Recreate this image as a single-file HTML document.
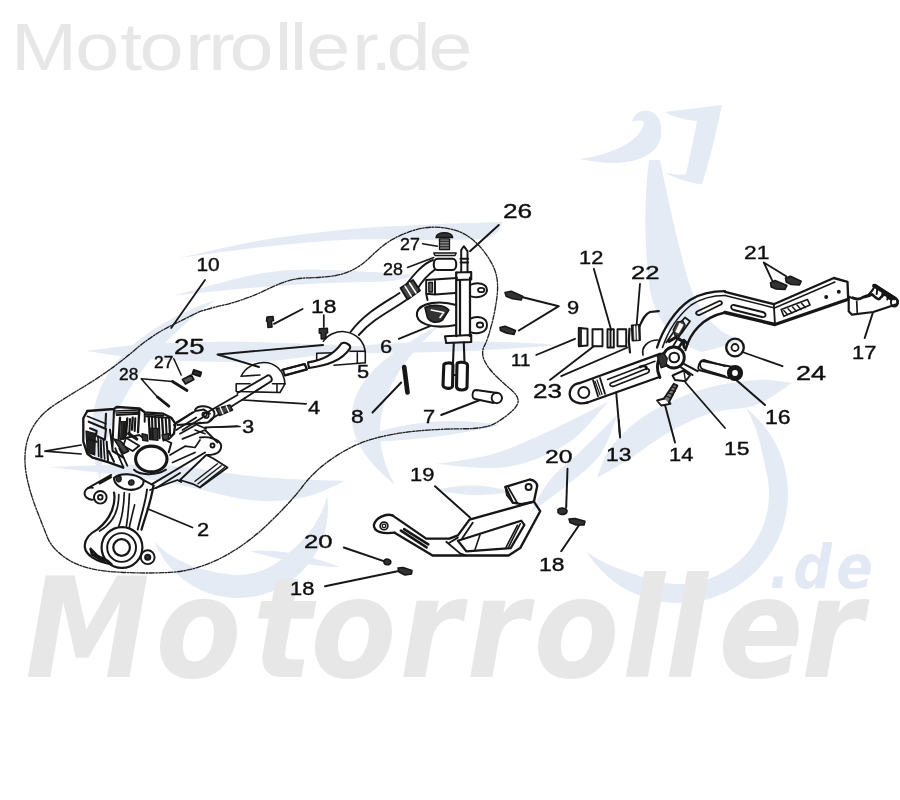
<!DOCTYPE html>
<html><head><meta charset="utf-8"><title>Motorroller.de</title>
<style>
html,body{margin:0;padding:0;background:#fff;}
body{width:900px;height:800px;overflow:hidden;}
svg{display:block;}
.lbl{font-family:"Liberation Sans",sans-serif;fill:#111;stroke:#111;stroke-width:0.4px;}
</style></head><body>
<svg width="900" height="800" viewBox="0 0 900 800">
<defs><filter id="soft" x="-2%" y="-2%" width="104%" height="104%"><feGaussianBlur stdDeviation="0.45"/></filter></defs>
<rect width="900" height="800" fill="#fff"/>
<!-- WATERMARK-BLUE -->
<g id="wm-blue" fill="#e5ebf5" stroke="none">
<path d="M179.0,258.0 C193.0,255.0 234.2,244.8 263.0,240.0 C291.8,235.2 322.3,231.7 352.0,229.0 C381.7,226.3 415.8,225.2 441.0,224.0 C466.2,222.8 492.7,222.3 503.0,222.0 C500.8,224.5 500.3,234.0 490.0,237.0 C479.7,240.0 464.0,239.6 441.0,240.0 C418.0,240.4 381.7,238.3 352.0,239.5 C322.3,240.7 291.8,243.9 263.0,247.0 C234.2,250.1 193.0,256.2 179.0,258.0Z"/>
<path d="M174.0,295.5 C188.8,291.8 237.0,277.2 263.0,273.0 C289.0,268.8 304.7,269.7 330.0,270.0 C355.3,270.3 400.8,274.2 415.0,275.0 C410.8,276.0 404.2,279.7 390.0,281.0 C375.8,282.3 351.2,282.0 330.0,283.0 C308.8,284.0 289.0,284.9 263.0,287.0 C237.0,289.1 188.8,294.1 174.0,295.5Z"/>
<path d="M86.0,351.0 C96.7,349.8 122.7,345.5 150.0,344.0 C177.3,342.5 212.5,341.5 250.0,342.0 C287.5,342.5 354.2,346.2 375.0,347.0 C365.8,348.3 340.8,352.5 320.0,355.0 C299.2,357.5 278.3,361.3 250.0,362.0 C221.7,362.7 177.3,360.8 150.0,359.0 C122.7,357.2 96.7,352.3 86.0,351.0Z"/>
<path d="M300,352 Q430,335 560,345 Q430,356 300,352Z"/>
<path d="M50.0,467.0 C68.3,466.7 125.0,463.3 160.0,465.0 C195.0,466.7 229.2,474.3 260.0,477.0 C290.8,479.7 330.8,480.3 345.0,481.0 C338.3,483.7 320.8,493.8 305.0,497.0 C289.2,500.2 274.2,502.7 250.0,500.0 C225.8,497.3 193.3,486.5 160.0,481.0 C126.7,475.5 68.3,469.3 50.0,467.0Z"/>
<path d="M215,300 Q60,355 100,480 Q108,378 215,300Z"/>
<path d="M440,325 Q290,400 395,485 Q350,405 440,325Z"/>
<path d="M350,442 Q420,412 500,425 Q430,442 350,442Z"/>
<path d="M250,551 Q290,548 340,567 Q300,566 250,551Z"/>
<path d="M608.0,402.0 C597.8,407.0 566.2,423.3 547.0,432.0 C527.8,440.7 511.5,448.7 493.0,454.0 C474.5,459.3 445.5,462.3 436.0,464.0 C447.8,464.5 485.0,470.5 507.0,467.0 C529.0,463.5 551.2,453.8 568.0,443.0 C584.8,432.2 601.3,408.8 608.0,402.0Z"/>
<path d="M618.0,414.0 C612.0,420.0 593.3,439.0 582.0,450.0 C570.7,461.0 558.5,469.7 550.0,480.0 C541.5,490.3 534.2,506.7 531.0,512.0 C536.8,507.7 554.5,495.5 566.0,486.0 C577.5,476.5 591.3,467.0 600.0,455.0 C608.7,443.0 615.0,420.8 618.0,414.0Z"/>
<path d="M436,490 Q475,480 512,492 Q475,499 436,490Z"/>
<path d="M327.1,495.5 L327.7,500.9 L328.0,506.3 L327.9,511.7 L327.5,517.1 L326.8,522.5 L325.8,527.9 L324.4,533.1 L322.7,538.3 L320.8,543.3 L318.5,548.3 L315.9,553.1 L313.0,557.7 L309.9,562.1 L306.5,566.4 L302.9,570.4 L299.0,574.2 L294.9,577.7 L290.6,581.0 L286.1,584.1 L281.4,586.8 L276.6,589.3 L271.6,591.5 L266.5,593.4 L261.3,594.9 L256.0,596.2 L250.7,597.1 L245.3,597.7 L239.8,598.0 L234.4,597.9 L229.0,597.5 L223.6,596.8 L218.3,595.8 L213.0,594.5 L207.8,592.8 L202.8,590.8 L197.8,588.5 L193.1,586.0 L188.4,583.1 L184.0,580.0 L179.7,576.6 L175.7,573.0 L171.9,569.1 L168.3,565.0 L165.0,560.7 L162.0,556.2 L159.2,551.5 L156.7,546.7 L154.6,541.7 L154.6,541.7 L158.6,545.8 L162.8,549.5 L167.2,552.9 L171.6,555.9 L176.1,558.6 L180.6,561.0 L185.1,563.1 L189.6,565.0 L194.0,566.6 L198.4,568.0 L202.7,569.3 L206.9,570.3 L211.1,571.3 L215.2,572.1 L219.2,572.9 L223.3,573.5 L227.3,574.1 L231.3,574.7 L235.3,574.9 L239.4,575.0 L243.4,574.8 L247.4,574.3 L251.4,573.6 L255.3,572.7 L259.2,571.6 L263.0,570.2 L266.7,568.5 L270.3,566.7 L273.8,564.6 L277.1,562.4 L280.4,559.9 L283.5,557.4 L286.7,554.8 L289.8,552.1 L292.9,549.3 L296.1,546.4 L299.2,543.4 L302.3,540.2 L305.4,536.8 L308.4,533.2 L311.3,529.3 L314.2,525.2 L316.9,520.9 L319.4,516.3 L321.8,511.5 L323.8,506.4 L325.6,501.0 L327.1,495.5Z"/>
<path d="M746.1,408.1 L752.2,413.2 L757.8,418.7 L763.1,424.7 L767.9,431.0 L772.3,437.6 L776.1,444.5 L779.5,451.7 L782.3,459.1 L784.5,466.7 L786.2,474.4 L787.4,482.3 L787.9,490.2 L787.9,498.1 L787.3,506.0 L786.2,513.9 L784.4,521.6 L782.2,529.2 L779.3,536.6 L776.0,543.8 L772.1,550.7 L767.7,557.3 L762.9,563.6 L757.6,569.5 L751.9,575.0 L745.9,580.1 L739.4,584.7 L732.7,588.9 L725.6,592.5 L718.4,595.6 L710.9,598.2 L703.2,600.3 L695.4,601.8 L687.6,602.7 L679.6,603.0 L671.7,602.8 L663.8,601.9 L656.0,600.6 L648.3,598.6 L640.8,596.1 L633.5,593.1 L626.4,589.5 L619.6,585.4 L613.1,580.9 L607.0,575.8 L601.3,570.4 L595.9,564.5 L591.0,558.3 L586.6,551.8 L586.6,551.8 L593.5,556.5 L600.6,560.6 L607.6,564.1 L614.7,567.2 L621.5,569.8 L628.2,572.2 L634.8,574.3 L641.2,576.4 L647.4,578.4 L653.7,580.4 L660.0,582.0 L666.5,583.1 L673.0,583.8 L679.5,584.0 L686.1,583.7 L692.6,583.0 L699.0,581.8 L705.3,580.1 L711.5,577.9 L717.5,575.3 L723.3,572.3 L728.9,568.9 L734.2,565.1 L739.2,560.9 L743.9,556.3 L748.3,551.4 L752.3,546.3 L755.9,540.8 L759.1,535.1 L761.8,529.2 L764.2,523.1 L766.1,516.8 L767.5,510.4 L768.5,503.9 L768.9,497.4 L768.9,490.9 L768.5,484.3 L767.5,477.9 L766.2,471.4 L764.9,465.0 L763.5,458.4 L762.0,451.7 L760.4,444.8 L758.5,437.7 L756.2,430.4 L753.4,423.0 L750.1,415.5 L746.1,408.1Z"/>
<path d="M597.0,478.0 C599.3,472.8 602.8,457.5 611.0,447.0 C619.2,436.5 631.2,424.5 646.0,415.0 C660.8,405.5 681.7,395.8 700.0,390.0 C718.3,384.2 740.7,381.2 756.0,380.0 C771.3,378.8 786.0,382.5 792.0,383.0 C786.0,386.7 769.5,400.0 756.0,405.0 C742.5,410.0 726.0,408.2 711.0,413.0 C696.0,417.8 679.3,426.5 666.0,434.0 C652.7,441.5 642.5,450.7 631.0,458.0 C619.5,465.3 602.7,474.7 597.0,478.0Z"/>
<path d="M580,159 C596,157 612,152 625,145 C637,138 643,130 644,122 C641,120 636,120 632.6,122 C633,116 637,112 643,111 C652,110 658,115 660,122 C663,132 661,141 656,148 C648,158 630,163 615,163 C602,163 590,161 580,159Z"/>
<path d="M664.6,112 L722,105 C716,135 708,165 702,184.5 C690,183 675,178 664.6,172.7 C672,174 679,175 686,174.4 C690,155 694,138 697,121 C685,120 674,117 664.6,112Z"/>
<path d="M649,160 C644,200 644,250 650,290 C656,325 680,345 702,352 L744,341 C716,334 696,310 687,276 C677,240 668,200 660,160Z"/>
</g>
<!-- WATERMARK-TEXT -->
<g id="wm-text">
<text transform="scale(1.2,1)" x="9.2 62.8 100.2 116.2 154.3 173.5 191.2 228.9 241.4 255.3 293.5 308.6 322 357" y="70" font-family="'Liberation Sans',sans-serif" font-size="66" fill="#e7e7e7">Motorroller.de</text>
<text transform="scale(0.9,1)" x="28.1 172.8 280.7 345 443.8 518.2 592.8 691 739 798.3 890.4" y="677" font-family="'DejaVu Sans','Liberation Sans',sans-serif" font-weight="bold" font-style="italic" font-size="139" fill="#e7e7e7">Motorroller</text>
<text transform="scale(0.9,1)" x="854.8 881.3 929.1" y="588" font-family="'DejaVu Sans','Liberation Sans',sans-serif" font-weight="bold" font-style="italic" font-size="60" fill="#e3e9f4">.de</text>
</g>
<!-- DIAGRAM -->
<g id="dg" filter="url(#soft)" fill="none" stroke="#161616" stroke-width="1.3" stroke-linecap="round" stroke-linejoin="round">
<path d="M 87.3 411.0 L 114.0 409.0 L 116.7 407.0 L 139.3 408.3 L 144.7 412.3 L 163.3 413.7 L 171.3 417.7 L 175.3 423.7 L 174.0 433.7 L 168.7 439.0" stroke-width="2.34"/>
<path d="M 87.3 411.0 L 83.3 418.3 L 83.3 441.7 L 87.3 453.7 L 92.7 457.7 L 108.7 462.3 L 123.3 467.7" stroke-width="2.34"/>
<path d="M 88.7 421.7 L 106.0 429.0 L 104.9 439.7 L 97.3 436.3" stroke-width="2.08"/>
<path d="M 87.3 416.3 L 106.0 423.7" stroke-width="1.56"/>
<path d="M 106.0 413.7 L 105.3 428.3 M 114.0 409.7 L 112.4 448.3 M 110.0 429.7 L 112.7 451.0 L 123.3 457.7" stroke-width="2.08"/>
<path d="M 115.3 448.3 L 123.3 467.0 M 119.3 448.3 L 127.3 465.7" stroke-width="1.82"/>
<path d="M 86.0 431.0 L 95.3 433.7 L 94.7 455.0 L 87.3 452.3 Z" stroke-width="1.3" fill="#222"/>
<path d="M 98.0 436.3 L 98.7 456.3 M 103.3 439.0 L 104.7 459.0" stroke-width="1.69"/>
<path d="M 120.0 417.7 L 118.7 439.0 M 127.3 418.3 L 126.0 435.0 M 132.7 417.7 L 132.0 429.7 M 139.3 409.7 L 138.0 432.3 M 148.7 416.3 L 150.0 439.0 M 155.3 417.0 L 156.0 437.7 M 162.0 417.7 L 163.3 437.7 M 169.3 419.0 L 170.0 435.0" stroke-width="2.34"/>
<path d="M 116.7 415.0 L 139.3 413.7 M 144.7 413.0 L 144.7 421.7 M 120.7 439.0 L 139.3 435.0 L 144.7 439.0" stroke-width="1.95"/>
<path d="M 121.3 421.7 L 126.0 421.7 L 125.3 437.7 L 120.7 439.0 Z" stroke-width="1.3" fill="#333"/>
<path d="M 150.0 428.3 L 158.0 428.3 L 158.0 440.3 L 150.7 439.7 Z" stroke-width="1.3" fill="#333"/>
<path d="M 126.0 437.7 L 139.3 445.7 L 132.7 451.0 L 123.3 445.7 Z" stroke-width="1.82"/>
<path d="M 128.7 433.7 L 136.7 439.0" stroke-width="3.25"/>
<path d="M 124.0 423.7 L 123.3 439.0 M 130.0 419.0 L 129.3 433.7 M 135.3 418.3 L 134.7 431.0 M 152.0 417.0 L 152.7 439.0 M 158.7 417.7 L 159.6 438.3 M 165.7 418.3 L 166.7 436.3" stroke-width="2.08"/>
<path d="M 115.3 411.0 L 139.3 409.9 M 116.0 413.0 L 138.7 412.1 M 145.3 414.3 L 163.3 415.7 M 146.0 416.3 L 168.7 417.9" stroke-width="1.69"/>
<path d="M 90.0 428.3 L 96.7 431.0 L 96.0 435.0 M 88.7 439.0 L 96.7 441.7 M 100.7 440.3 L 101.3 457.7 M 106.7 441.7 L 108.0 460.3 M 108.7 451.0 L 114.0 461.7" stroke-width="2.08"/>
<path d="M 142.0 433.7 L 147.3 435.0 L 148.0 441.0 L 142.7 440.3 Z" stroke-width="1.3" fill="#333"/>
<path d="M 162.0 435.0 L 168.7 433.7 L 168.0 439.0 L 163.3 441.0 Z" stroke-width="1.3" fill="#444"/>
<path d="M 114.0 439.0 L 120.7 441.0 L 128.7 451.0 L 123.3 453.7 Z" stroke-width="1.56" fill="#444"/>
<ellipse cx="151.3" cy="459.0" rx="15.7" ry="12.9" stroke-width="3.12" fill="#fff"/>
<path d="M 134.0 469.7 C 139.3 475.0 155.3 476.3 166.0 469.7" stroke-width="1.95"/>
<path d="M 163.3 439.0 L 171.3 443.0 L 168.7 452.3" stroke-width="1.95"/>
<circle cx="122.0" cy="547.5" r="20.4" stroke-width="2.21"/>
<circle cx="121.6" cy="547.5" r="14.4" stroke-width="1.95"/>
<circle cx="121.6" cy="547.5" r="8.3" stroke-width="2.21"/>
<path d="M 90.6 548.9 L 97.5 555.8 L 107.1 560.6 L 111.3 564.3 M 90.6 548.9 L 92.0 554.4 L 104.4 562.0" stroke-width="2.6"/>
<circle cx="147.7" cy="557.2" r="6.9" stroke-width="1.95"/>
<circle cx="147.7" cy="557.2" r="2.6" stroke-width="1.95" fill="#333"/>
<circle cx="100.3" cy="497.3" r="6.3" stroke-width="1.95"/>
<circle cx="100.3" cy="497.3" r="2.3" stroke-width="1.82"/>
<path d="M 94.1 499.4 C 87.9 500.8 83.1 495.9 85.1 491.1 C 86.2 488.7 89.3 487.3 92.7 487.7" stroke-width="1.95"/>
<path d="M 87.9 488.1 L 111.3 474.9 M 99.6 483.6 L 111.3 477.1" stroke-width="1.82"/>
<path d="M 114.0 478.1 C 119.5 472.6 134.6 472.6 143.6 480.1 C 144.3 485.6 138.8 490.4 129.1 489.8 C 120.9 489.1 114.0 484.3 114.0 478.1 Z" stroke-width="2.08"/>
<path d="M 116.1 478.8 C 117.5 475.3 121.6 475.7 121.2 479.4 C 120.6 482.9 116.5 482.6 116.1 478.8 Z" stroke-width="1.3" fill="#333"/>
<path d="M 128.5 482.2 C 129.8 478.8 134.6 479.4 134.0 483.2 C 133.0 486.3 128.5 485.6 128.5 482.2 Z" stroke-width="1.3" fill="#333"/>
<path d="M 114.0 492.5 C 116.1 503.5 111.3 518.6 97.5 529.4 C 89.3 533.8 83.8 539.3 84.9 547.5 C 85.8 554.4 94.8 561.3 111.3 564.3" stroke-width="2.21"/>
<path d="M 118.8 494.6 C 118.8 509.0 114.0 522.8 99.6 531.0" stroke-width="1.69"/>
<path d="M 124.3 492.5 C 123.9 506.3 121.6 518.6 118.8 526.2 M 129.4 493.9 C 128.9 506.3 127.8 517.3 126.4 526.2" stroke-width="1.69"/>
<path d="M 134.6 504.9 C 132.6 513.1 130.5 521.4 129.4 527.2" stroke-width="1.69"/>
<path d="M 147.0 489.5 C 145.7 502.1 140.8 515.9 137.7 529.6" stroke-width="1.95"/>
<path d="M 153.2 487.0 C 150.5 503.5 145.0 517.3 141.5 529.6" stroke-width="2.21"/>
<path d="M 143.6 480.1 L 153.9 485.6 L 153.2 487.0" stroke-width="1.82"/>
<path d="M 152.5 483.8 L 205.0 452.5 M 156.2 488.0 L 180.0 473.0" stroke-width="1.95"/>
<path d="M 150.0 490.0 L 177.5 480.0 L 181.2 482.0" stroke-width="1.82"/>
<path d="M 200.0 437.5 C 207.5 436.2 220.0 438.8 221.2 445.5 C 221.2 452.5 215.0 455.0 207.5 455.0" stroke-width="1.95"/>
<circle cx="212.5" cy="445.5" r="2.0" stroke-width="1.82"/>
<path d="M 180.0 480.0 L 206.2 455.0 L 212.5 458.0 L 227.5 467.5 L 200.0 487.5 L 192.5 483.8 Z" stroke-width="1.82"/>
<path d="M 195.0 481.2 L 217.5 463.8 M 198.0 483.8 L 221.2 465.8 M 201.0 486.0 L 224.5 467.5" stroke-width="1.43"/>
<path d="M 173.8 425.0 L 195.0 411.2 L 203.8 409.5 L 210.0 413.8 M 176.2 430.0 L 196.2 417.5 M 180.0 433.8 L 200.0 422.5 M 182.5 438.8 L 205.0 430.0 L 217.5 442.5" stroke-width="1.82"/>
<path d="M 170.0 455.0 L 185.0 446.2 L 195.0 447.5 L 200.0 440.0 M 172.5 462.5 L 195.0 452.5" stroke-width="1.69"/>
<circle cx="204.5" cy="414.5" r="2.2" stroke-width="1.69"/>
<path d="M 45.0 451.2 L 81.2 445.0 M 45.0 451.2 L 81.2 454.0" stroke-width="1.69"/>
<path d="M 192.5 527.5 L 147.5 508.8" stroke-width="1.69"/>
<path d="M 205.0 427.5 L 240.0 426.5" stroke-width="1.69"/>
<path d="M 205.0 280.0 L 171.2 328.0" stroke-width="1.82"/>
<path d="M 217.5 354.5 L 323.0 345.0 M 217.5 354.5 L 259.0 367.0" stroke-width="1.95"/>
<path d="M 173.8 358.8 L 181.2 375.0" stroke-width="1.56"/>
<path d="M 141.2 378.8 L 172.5 381.5 M 141.2 378.8 L 150.0 388.8 L 157.5 397.0" stroke-width="1.56"/>
<path d="M 172.5 381.5 L 187.0 390.5 M 157.5 397.0 L 168.8 406.2" stroke-width="2.86"/>
<path d="M 193.8 370.0 L 201.2 372.5 L 200.0 376.2 L 192.5 373.8 Z" stroke-width="1.95" fill="#333"/>
<path d="M 182.5 379.5 L 191.2 375.0 L 193.8 379.5 L 185.5 384.0 Z" stroke-width="1.69" fill="#555"/>
<path d="M 241.2 376.2 C 245.0 367.5 255.0 362.5 263.8 362.5 C 275.0 362.5 283.8 370.0 285.0 383.8" stroke-width="1.56"/>
<path d="M 241.2 376.2 L 260.0 375.0 M 236.2 383.8 L 236.2 391.5 L 280.0 392.5 L 285.0 383.8 M 236.2 383.8 L 250.0 383.8 M 272.5 383.8 L 285.0 383.8 M 277.0 383.8 L 277.0 392.0" stroke-width="1.56"/>
<path d="M 237.5 393.0 L 267.5 375.5 C 270.0 374.5 273.0 378.8 271.2 381.2 L 245.0 398.0" stroke-width="1.95"/>
<path d="M 206.2 413.0 L 237.5 395.0 M 210.5 419.5 L 245.0 398.0" stroke-width="1.82"/>
<path d="M 216.2 408.8 L 230.0 405.0 L 232.5 410.0 L 219.5 415.5 Z" stroke-width="1.56" fill="#444"/>
<path d="M 220.0 407.0 L 223.0 413.8 M 226.2 406.0 L 229.0 412.0" stroke-width="1.3" stroke="#fff"/>
<path d="M 195.0 410.0 C 197.5 405.0 207.5 405.0 213.0 410.0 C 216.2 413.8 213.8 420.0 207.5 422.5 L 177.5 425.0" stroke-width="1.95"/>
<path d="M 192.5 412.5 L 176.2 422.5 M 202.5 417.5 L 182.5 430.0" stroke-width="1.82"/>
<circle cx="206.2" cy="415.5" r="2.5" stroke-width="1.69"/>
<path d="M 197.5 425.0 L 206.2 428.8 M 195.0 430.0 L 205.0 433.8" stroke-width="1.56"/>
<path d="M 282.0 370.0 L 304.5 364.0 M 285.0 375.5 L 307.0 369.5 M 304.5 364.0 L 307.0 369.5" stroke-width="1.82"/>
<path d="M 267.0 317.0 L 273.0 316.5 L 273.5 320.5 L 271.5 321.0 L 272.0 327.0 L 268.0 327.5 L 267.5 321.5 L 266.5 321.0 Z" stroke-width="1.56" fill="#333"/>
<path d="M 274.0 323.8 L 302.5 309.0" stroke-width="1.95"/>
<path d="M 323.8 315.0 L 323.8 327.0" stroke-width="1.69"/>
<path d="M 306.2 403.8 L 242.5 400.0" stroke-width="1.69"/>
<path d="M 237.5 426.2 L 205.0 427.5" stroke-width="1.69"/>
<path d="M 498.8 225.0 L 470.0 251.2" stroke-width="1.95"/>
<path d="M 422.5 243.8 L 437.5 246.2" stroke-width="1.43"/>
<path d="M 407.5 267.5 L 433.8 257.5" stroke-width="1.43"/>
<path d="M 436.2 237.5 C 436.2 231.2 452.5 231.2 452.5 237.5 Z" stroke-width="1.69" fill="#333"/>
<path d="M 439.5 238.8 L 449.5 238.8 L 449.5 249.5 L 439.5 249.5 Z" stroke-width="1.3" fill="#888"/>
<path d="M 439.5 241.2 L 449.5 241.2 M 439.5 244.0 L 449.5 244.0 M 439.5 246.8 L 449.5 246.8" stroke-width="1.04"/>
<path d="M 433.8 253.0 L 456.2 253.0 L 455.0 255.5 L 435.0 255.5 Z" stroke-width="1.43"/>
<path d="M 437.5 258.8 L 452.5 258.8 C 457.5 258.8 457.5 270.0 452.5 270.0 L 437.5 270.0 C 432.5 270.0 432.5 258.8 437.5 258.8 Z" stroke-width="2.08"/>
<path d="M 433.0 260.0 C 422.5 263.8 413.8 275.0 406.2 284.5 M 435.0 269.5 C 427.5 275.0 421.2 282.5 417.0 289.5" stroke-width="1.95"/>
<path d="M 400.5 288.0 L 413.0 280.0 L 420.0 290.5 L 407.5 299.5 Z" stroke-width="1.82" fill="#444"/>
<path d="M 405.0 286.2 L 411.2 296.2 M 409.5 283.0 L 416.0 293.0" stroke-width="1.56" stroke="#fff"/>
<path d="M 399.5 293.0 C 385.0 302.5 365.0 312.5 350.5 332.0 M 406.2 300.0 C 392.5 310.0 372.5 318.8 358.8 335.0" stroke-width="1.95"/>
<path d="M 456.2 272.5 L 456.2 336.2 M 470.0 277.5 L 470.0 336.2 M 460.0 280.0 L 460.0 335.0" stroke-width="2.21"/>
<path d="M 456.2 272.5 L 471.2 272.0 L 471.2 279.5 L 457.0 280.0" stroke-width="2.08"/>
<path d="M 461.2 250.0 L 461.2 272.0 M 467.5 251.2 L 467.5 272.0 M 461.2 250.0 L 463.8 246.2 L 467.5 251.2 M 460.5 258.8 L 468.2 258.8 M 460.5 262.5 L 468.2 262.5" stroke-width="1.95"/>
<path d="M 426.2 280.0 L 457.0 278.0 M 426.2 280.0 L 426.2 293.8 L 435.0 294.5 L 435.0 281.2 M 426.2 293.8 L 427.5 300.0 M 435.0 294.5 L 455.0 293.0" stroke-width="1.95"/>
<path d="M 428.8 282.5 L 432.5 282.5 L 432.5 292.0 L 428.8 292.0 Z" stroke-width="1.3" fill="#666"/>
<path d="M 470.0 285.0 C 477.5 281.2 487.0 283.8 487.0 290.0 C 487.0 296.2 477.5 298.8 470.0 296.2" stroke-width="1.95"/>
<ellipse cx="481.2" cy="290.0" rx="3.2" ry="2.2" stroke-width="1.82"/>
<path d="M 470.0 318.8 C 477.5 315.0 487.0 317.5 487.0 325.0 C 487.0 332.5 477.5 335.0 470.0 332.0" stroke-width="1.95"/>
<ellipse cx="480.0" cy="325.0" rx="3.2" ry="2.5" stroke-width="1.82"/>
<path d="M 456.2 305.0 C 440.0 300.0 420.0 302.5 417.0 312.5 C 415.0 322.5 430.0 330.0 456.2 325.0" stroke-width="2.08"/>
<path d="M 425.0 307.5 C 432.5 303.8 445.0 305.0 448.8 310.0 L 442.5 320.0 C 437.5 323.8 430.0 322.5 427.5 317.5 Z" stroke-width="1.69" fill="#333"/>
<path d="M 431.2 310.0 L 443.8 312.5 L 440.0 317.5" stroke-width="1.56" stroke="#fff"/>
<path d="M 445.0 336.2 L 471.2 335.0 L 471.2 342.0 L 446.2 343.0 Z" stroke-width="2.08"/>
<path d="M 453.8 343.0 L 453.0 362.5 M 463.8 342.5 L 464.5 362.5" stroke-width="2.08"/>
<path d="M 443.8 365.0 C 443.8 362.5 452.5 362.0 453.0 365.0 L 452.5 386.2 C 451.2 389.5 443.8 388.8 443.0 385.5 Z" stroke-width="3.12"/>
<path d="M 457.0 363.8 C 457.5 361.2 467.0 362.0 467.5 365.0 L 467.0 387.5 C 465.0 391.2 457.5 390.5 456.5 387.0 Z" stroke-width="3.12"/>
<path d="M 453.0 375.0 L 456.5 375.0" stroke-width="1.95"/>
<path d="M 398.8 338.8 L 430.0 326.2" stroke-width="1.82"/>
<path d="M 404.2 367.0 L 407.5 392.5" stroke-width="4.68"/>
<path d="M 401.2 382.5 L 372.5 412.5" stroke-width="1.95"/>
<path d="M 323.3 341.3 C 327.3 334.7 336.7 330.9 344.7 331.7 C 356.7 333.3 364.7 341.3 365.3 353.3 L 365.3 362.7" stroke-width="1.56"/>
<path d="M 316.7 353.3 L 316.7 360.0 M 316.7 353.3 L 334.0 352.7 M 350.0 351.3 L 365.3 351.3 M 316.7 360.0 L 328.7 358.7 M 334.0 365.3 L 365.3 362.7 M 357.3 352.7 L 357.3 362.7" stroke-width="1.56"/>
<path d="M 308.0 362.4 C 320.7 360.7 332.7 356.0 341.3 343.7 C 344.7 341.3 351.3 344.7 350.0 348.3 C 342.0 360.0 328.7 365.3 308.9 368.0 Z" stroke-width="2.08" fill="#fff"/>
<path d="M 282.7 369.6 L 304.9 364.0 L 306.7 369.3 L 284.9 375.3 Z" stroke-width="1.95"/>
<path d="M 319.3 328.7 L 327.3 328.3 L 327.6 332.7 L 326.0 333.3 L 325.7 338.7 L 321.3 338.9 L 321.1 333.6 L 319.3 333.1 Z" stroke-width="1.56" fill="#333"/>
<path d="M 593.8 268.8 L 611.2 330.0" stroke-width="1.82"/>
<path d="M 640.0 283.8 L 636.5 326.2" stroke-width="1.82"/>
<path d="M 558.8 306.2 L 518.8 296.2 M 558.8 306.2 L 518.8 330.5" stroke-width="1.95"/>
<path d="M 505.0 292.5 L 511.2 291.2 L 522.5 296.2 L 521.2 300.0 L 512.5 298.8 L 506.2 296.2 Z" stroke-width="1.56" fill="#333"/>
<path d="M 500.0 327.5 L 505.0 326.2 L 515.5 330.5 L 514.0 334.5 L 506.2 333.0 L 500.5 330.5 Z" stroke-width="1.56" fill="#333"/>
<path d="M 536.2 355.0 L 575.0 338.8" stroke-width="1.82"/>
<path d="M 550.0 380.0 L 593.8 346.2 M 561.2 376.2 L 627.5 347.5" stroke-width="1.82"/>
<path d="M 578.8 328.0 L 587.5 328.8 L 587.5 345.5 L 578.8 346.2 Z" stroke-width="1.95"/>
<path d="M 578.8 328.0 L 581.2 328.0 L 581.2 346.2 L 578.8 346.2 Z" stroke-width="1.3" fill="#333"/>
<path d="M 592.5 329.2 L 602.5 329.2 L 602.5 346.2 L 592.5 346.2 Z" stroke-width="1.95"/>
<path d="M 607.5 329.2 L 613.8 329.2 L 613.8 347.5 L 607.5 347.5 Z M 610.5 329.2 L 610.5 347.5" stroke-width="1.95"/>
<path d="M 617.5 329.2 L 626.2 329.2 L 626.2 346.2 L 617.5 346.2 Z" stroke-width="1.95"/>
<path d="M 631.8 325.5 L 639.5 325.0 L 640.0 340.0 L 632.5 340.5 Z" stroke-width="1.95" fill="#555"/>
<path d="M 634.5 326.2 L 635.0 339.5 M 637.2 326.0 L 637.8 339.5" stroke-width="1.3" stroke="#fff"/>
<path d="M 639.5 326.2 C 642.5 320.0 645.0 313.8 650.0 312.0 L 658.8 311.2" stroke-width="2.21"/>
<path d="M 629.5 328.8 L 628.8 341.2 L 630.0 352.5" stroke-width="2.21"/>
<path d="M 580.0 383.0 L 660.0 353.8 M 587.5 402.5 L 658.0 377.5" stroke-width="2.34"/>
<path d="M 580.0 383.0 C 571.2 383.8 567.5 392.5 571.2 398.8 C 575.0 403.8 582.5 403.8 587.5 402.5" stroke-width="2.34"/>
<circle cx="583.8" cy="392.5" r="5.5" stroke-width="1.95"/>
<path d="M 593.0 380.0 L 598.0 396.2 M 600.0 378.0 L 605.0 393.8" stroke-width="1.82"/>
<path d="M 595.0 381.2 L 600.0 395.0 M 597.0 380.0 L 602.0 394.5" stroke-width="1.17"/>
<path d="M 607.5 379.5 L 655.0 361.2" stroke-width="1.56"/>
<path d="M 611.2 383.0 L 646.2 368.8 C 650.0 368.0 650.0 372.0 647.5 373.0 L 613.8 386.2 C 610.0 387.0 608.8 384.0 611.2 383.0 Z" stroke-width="1.69"/>
<path d="M 640.0 367.0 C 643.8 365.0 647.5 366.2 646.2 368.8" stroke-width="2.6"/>
<path d="M 643.0 355.0 C 641.2 347.5 647.5 340.0 658.0 340.0" stroke-width="1.69"/>
<circle cx="673.8" cy="357.5" r="10.5" stroke-width="2.86"/>
<circle cx="674.2" cy="357.5" r="4.8" stroke-width="2.08"/>
<path d="M 660.0 377.5 C 656.2 370.0 656.2 360.0 662.5 353.8" stroke-width="2.86"/>
<path d="M 657.0 347.5 C 662.5 330.0 675.0 310.0 690.0 300.0 C 700.0 293.8 712.5 291.2 725.0 291.2" stroke-width="2.34"/>
<path d="M 685.5 350.0 C 690.0 332.5 702.5 317.5 725.0 312.5" stroke-width="2.34"/>
<path d="M 662.5 347.5 C 667.5 332.5 677.5 316.2 691.2 305.0 C 702.5 297.5 715.0 295.5 725.0 295.5" stroke-width="1.56"/>
<path d="M 697.5 311.2 L 718.8 301.2 C 722.5 300.5 723.0 304.0 720.0 305.0 L 699.5 315.0 C 696.2 315.5 695.0 312.5 697.5 311.2 Z" stroke-width="1.82"/>
<path d="M 675.0 328.8 L 685.0 317.5 L 690.0 321.2 L 681.2 333.8 Z" stroke-width="1.82"/>
<path d="M 666.2 342.5 L 675.0 330.0 M 680.0 335.0 L 672.5 347.0" stroke-width="1.82"/>
<path d="M 678.8 347.5 L 683.8 340.0 L 687.5 343.8" stroke-width="2.6"/>
<path d="M 657.2 356.1 L 663.4 353.0 L 667.3 358.4 L 665.8 366.2 L 661.1 367.8 Z" stroke-width="1.3" fill="#333"/>
<path d="M 673.2 329.7 L 677.4 321.9 L 682.9 321.1 L 685.2 325.0 L 679.8 335.1 L 675.4 336.7 Z" stroke-width="1.3" fill="#444"/>
<path d="M 679.8 323.4 L 682.9 325.0 L 678.5 332.8 L 675.9 331.7 Z" stroke-width="1.04" fill="#fff" stroke="#fff"/>
<path d="M 668.9 341.3 L 675.9 337.4 L 682.9 341.3 L 684.4 347.5" stroke-width="3.12"/>
<path d="M 683.8 363.8 L 697.5 371.2 M 681.2 367.5 L 692.5 375.0" stroke-width="2.08"/>
<path d="M 672.5 375.5 L 683.8 370.5 L 690.0 375.5 L 685.5 381.2 L 675.0 380.0 Z" stroke-width="1.95"/>
<path d="M 683.8 370.5 L 685.5 381.2" stroke-width="1.43"/>
<path d="M 700.0 363.8 C 700.0 360.0 703.8 359.5 706.2 360.5 L 725.0 366.2 M 700.0 363.8 C 700.0 367.5 702.0 369.5 705.0 370.0 L 725.0 376.2" stroke-width="1.82"/>
<path d="M 657.0 400.5 L 666.2 398.0 L 670.5 403.8 L 661.2 405.5 Z" stroke-width="1.82"/>
<path d="M 663.8 398.8 L 673.8 383.8 L 677.5 385.5 L 668.8 402.5" stroke-width="1.82" fill="#777"/>
<path d="M 666.2 396.2 L 671.2 398.0 M 668.2 393.0 L 673.2 394.8 M 670.2 390.0 L 675.0 391.5 M 672.2 387.0 L 676.5 388.5" stroke-width="1.17"/>
<path d="M 685.5 382.5 L 725.0 428.0" stroke-width="1.82"/>
<path d="M 763.8 262.5 L 772.5 281.2 M 763.8 262.5 L 786.2 276.2" stroke-width="1.82"/>
<path d="M 770.5 283.0 L 775.0 280.5 L 787.0 285.5 L 785.0 289.5 L 776.2 289.0 L 771.2 287.0 Z" stroke-width="1.56" fill="#333"/>
<path d="M 785.5 278.0 L 790.5 276.2 L 801.2 281.2 L 799.5 285.0 L 791.2 284.5 L 786.2 282.0 Z" stroke-width="1.56" fill="#333"/>
<path d="M 725.0 291.8 L 773.8 304.2 L 833.8 278.0 L 847.5 281.8 L 848.2 298.8" stroke-width="2.34"/>
<path d="M 725.0 312.5 L 775.0 324.5 L 847.5 299.5" stroke-width="3.38"/>
<path d="M 725.0 295.5 L 774.5 308.0 L 835.0 282.0" stroke-width="1.43"/>
<path d="M 773.8 304.2 L 775.0 324.5" stroke-width="1.82"/>
<path d="M 733.8 305.0 L 762.5 312.0 C 767.0 313.2 766.2 318.0 762.0 317.0 L 733.8 310.0 C 730.0 308.8 730.5 304.5 733.8 305.0 Z" stroke-width="1.82"/>
<path d="M 781.2 309.5 L 807.5 299.5 L 810.0 305.0 L 783.8 316.2 Z" stroke-width="1.69"/>
<path d="M 783.8 310.5 L 787.5 314.5 M 788.0 308.8 L 792.0 313.0 M 792.5 307.0 L 796.5 311.2 M 797.0 305.0 L 801.0 309.5 M 801.5 303.2 L 805.5 307.5" stroke-width="1.43"/>
<circle cx="826.2" cy="297.0" r="1.0" stroke-width="1.95" fill="#333"/>
<circle cx="838.8" cy="291.8" r="1.0" stroke-width="1.95" fill="#333"/>
<path d="M 848.7 296.7 L 848.7 311.3 L 852.0 314.7 L 873.3 312.0 L 897.3 304.0 L 897.6 300.7" stroke-width="2.21"/>
<path d="M 856.7 301.3 L 857.3 313.7" stroke-width="1.69"/>
<path d="M 848.7 296.7 C 852.0 298.7 856.0 299.1 860.0 298.7 C 863.3 296.0 866.7 296.0 868.7 294.7 C 870.7 292.7 873.3 290.0 875.3 284.9 L 893.3 296.7 C 896.7 298.0 898.0 300.0 897.6 303.3" stroke-width="2.08"/>
<path d="M 852.7 297.7 C 856.0 299.6 860.0 299.6 863.3 297.3 C 866.7 296.0 869.3 296.7 872.0 294.3 C 874.0 296.0 877.3 299.6 879.3 299.1 C 881.3 296.7 883.3 294.7 885.3 294.3 C 886.7 296.0 888.7 298.7 891.3 299.6" stroke-width="2.6"/>
<path d="M 874.0 285.7 L 894.4 298.3" stroke-width="3.9"/>
<path d="M 877.3 288.7 L 876.7 294.0 M 882.7 292.0 L 882.0 296.7 M 888.0 295.3 L 887.3 299.6" stroke-width="1.95"/>
<ellipse cx="894.4" cy="302.3" rx="3.5" ry="4.3" stroke-width="1.95"/>
<path d="M 872.7 313.3 L 864.7 338.0" stroke-width="1.95"/>
<circle cx="735.0" cy="347.5" r="8.8" stroke-width="2.34"/>
<circle cx="735.0" cy="347.5" r="3.5" stroke-width="1.82"/>
<path d="M 743.8 352.5 L 782.5 366.2" stroke-width="1.82"/>
<path d="M 702.5 361.2 L 733.0 367.0 M 698.8 370.0 L 728.8 378.0 M 702.5 361.2 C 698.8 362.0 697.5 367.5 698.8 370.0" stroke-width="1.82"/>
<circle cx="735.0" cy="373.0" r="5.5" stroke-width="5.2"/>
<path d="M 736.2 380.0 L 765.0 405.0" stroke-width="2.08"/>
<path d="M 435.0 486.2 L 470.0 517.5" stroke-width="1.95"/>
<path d="M 343.8 547.5 L 383.8 561.2" stroke-width="1.95"/>
<path d="M 384.5 560.0 C 387.0 558.0 391.2 559.5 390.8 562.5 C 390.0 565.5 385.0 565.5 384.0 563.0 Z" stroke-width="1.56" fill="#333"/>
<path d="M 325.0 586.2 L 397.5 571.2" stroke-width="1.95"/>
<path d="M 398.0 568.0 L 403.0 567.5 L 412.0 570.5 L 411.5 574.0 L 405.0 575.0 L 399.0 572.0 Z" stroke-width="1.56" fill="#333"/>
<path d="M 392.4 515.4 L 426.2 538.6 L 449.4 538.6 L 457.9 535.4 L 469.5 519.6 L 533.9 501.7 L 540.2 511.2 L 520.2 548.1 L 508.6 555.5 L 432.6 555.5 L 394.6 532.7" stroke-width="2.34"/>
<path d="M 392.4 515.4 C 386.1 513.3 375.6 517.5 373.9 524.9 C 373.4 531.2 381.9 534.4 394.6 532.7" stroke-width="2.34"/>
<circle cx="384.0" cy="525.9" r="3.8" stroke-width="1.82"/>
<circle cx="384.0" cy="525.9" r="1.7" stroke-width="1.3"/>
<path d="M 400.9 530.6 L 426.6 547.3 M 404.1 529.1 L 428.3 544.3" stroke-width="2.6"/>
<path d="M 457.9 540.7 L 521.2 520.7 L 524.4 524.9 L 510.7 548.1 L 466.3 551.3 Z" stroke-width="2.21"/>
<path d="M 480.1 534.4 L 474.8 550.2 M 520.2 523.8 L 508.6 547.1 M 517.4 525.3 L 506.0 547.3" stroke-width="1.56"/>
<path d="M 472.7 522.8 L 462.1 538.6 M 449.4 542.8 L 457.9 537.6 M 446.3 541.8 L 460.0 553.4 L 466.3 555.5" stroke-width="1.82"/>
<path d="M 505.4 486.9 L 529.7 479.5 C 534.9 480.1 537.7 483.7 537.0 486.9 L 533.9 501.7 L 521.2 504.2 L 512.8 502.7 Z" stroke-width="2.34"/>
<path d="M 508.6 487.9 L 517.4 503.1 M 505.4 486.9 L 506.9 495.3 L 512.8 502.7" stroke-width="1.82"/>
<circle cx="528.6" cy="486.9" r="3.0" stroke-width="1.95"/>
<path d="M 567.5 468.8 L 566.2 507.5" stroke-width="1.95"/>
<path d="M 558.0 509.5 C 560.5 507.0 567.5 508.0 567.0 511.5 C 566.2 515.0 559.5 515.5 558.0 512.5 Z" stroke-width="1.56" fill="#333"/>
<path d="M 561.2 551.2 L 580.0 523.8" stroke-width="1.95"/>
<path d="M 569.0 519.0 L 575.0 518.5 L 585.0 521.2 L 584.0 525.0 L 576.2 525.0 L 570.0 522.5 Z" stroke-width="1.56" fill="#333"/>
<path d="M 618.8 420.0 L 620.0 437.5" stroke-width="1.82"/>
<path d="M 476.2 390.0 L 497.5 393.0 M 475.0 399.0 L 493.8 403.0 M 476.2 390.0 C 472.0 390.0 471.2 398.0 475.0 399.0" stroke-width="1.82"/>
<circle cx="496.8" cy="398.0" r="5.2" stroke-width="1.95"/>
<path d="M 441.2 415.0 L 480.0 400.0" stroke-width="1.95"/>
<path d="M 665.0 405.0 L 675.0 442.5" stroke-width="1.95"/>
<path d="M 616.2 392.5 L 620.0 436.2" stroke-width="1.95"/>
<path d="M107.5,371.2 Q95.0,380.0 82.5,387.5 Q70.0,395.0 56.2,403.8 Q42.5,412.5 35.0,423.8 Q27.5,435.0 25.6,448.8 Q23.8,462.5 26.9,477.5 Q30.0,492.5 36.2,508.8 Q42.5,525.0 47.5,537.5 Q52.5,550.0 68.8,560.0 Q85.0,570.0 115.0,571.9 Q145.0,573.8 170.0,572.4 Q195.0,571.0 220.0,558.5 Q245.0,546.0 267.5,524.5 Q290.0,503.0 302.5,486.5 Q315.0,470.0 333.8,457.5 Q352.5,445.0 371.2,439.4 Q390.0,433.8 415.0,431.2 Q440.0,428.8 463.0,428.8 Q486.0,428.8 495.5,423.1 Q505.0,417.5 511.9,411.2 Q518.8,405.0 518.1,400.0 Q517.5,395.0 510.0,388.8 Q502.5,382.5 495.0,375.0 Q487.5,367.5 484.2,360.0 Q481.0,352.5 484.2,346.2 Q487.5,340.0 491.2,326.2 Q495.0,312.5 496.9,297.5 Q498.8,282.5 495.6,272.5 Q492.5,262.5 483.8,251.2 Q475.0,240.0 465.0,234.4 Q455.0,228.8 441.2,227.5 Q427.5,226.2 415.0,230.0 Q402.5,233.8 392.5,239.4 Q382.5,245.0 372.5,255.0 Q362.5,265.0 352.5,270.0 Q342.5,275.0 331.2,276.2 Q320.0,277.5 310.0,277.8 Q300.0,278.0 291.5,279.9 Q283.0,281.7 264.0,290.9 Q245.0,300.0 223.8,305.0 Q202.5,310.0 195.0,313.8 Q187.5,317.5 170.0,326.2 Q152.5,335.0 136.2,348.8 Q120.0,362.5 107.5,371.2Z" stroke-width="1.35" stroke-dasharray="5 1.5 1.5 1.5" stroke="#222"/>
</g>
<!-- LABELS -->
<g id="lb" class="lbl" filter="url(#soft)">
<text x="34" y="457" font-size="18">1</text>
<text transform="translate(197 536) scale(1.15 1)" font-size="19">2</text>
<text transform="translate(242 433) scale(1.15 1)" font-size="19">3</text>
<text transform="translate(174 354) scale(1.25 1)" font-size="22">25</text>
<text transform="translate(154 367.5) scale(1.05 1)" font-size="16.5">27</text>
<text transform="translate(119 380) scale(1.05 1)" font-size="16.5">28</text>
<text transform="translate(308 414) scale(1.15 1)" font-size="19">4</text>
<text transform="translate(196.5 271) scale(1.1 1)" font-size="19">10</text>
<text transform="translate(311 313) scale(1.2 1)" font-size="19">18</text>
<text transform="translate(503 217.5) scale(1.25 1)" font-size="21">26</text>
<text transform="translate(400 250) scale(1.05 1)" font-size="17">27</text>
<text transform="translate(383 275) scale(1.05 1)" font-size="17">28</text>
<text transform="translate(380 352.5) scale(1.15 1)" font-size="19">6</text>
<text transform="translate(357 377.5) scale(1.15 1)" font-size="19">5</text>
<text transform="translate(511 365.5) scale(1.1 1)" font-size="17">11</text>
<text transform="translate(579 264) scale(1.15 1)" font-size="19">12</text>
<text transform="translate(631 279) scale(1.35 1)" font-size="19">22</text>
<text transform="translate(567 314) scale(1.15 1)" font-size="19">9</text>
<text transform="translate(533 397.5) scale(1.3 1)" font-size="20">23</text>
<text transform="translate(744 259) scale(1.2 1)" font-size="19">21</text>
<text transform="translate(852 359) scale(1.15 1)" font-size="19">17</text>
<text transform="translate(796 380) scale(1.35 1)" font-size="20">24</text>
<text transform="translate(765 424) scale(1.15 1)" font-size="20">16</text>
<text transform="translate(410 481) scale(1.15 1)" font-size="19">19</text>
<text transform="translate(304 547.5) scale(1.35 1)" font-size="19">20</text>
<text transform="translate(290 595) scale(1.15 1)" font-size="19">18</text>
<text transform="translate(545 462.5) scale(1.3 1)" font-size="19">20</text>
<text transform="translate(539 571) scale(1.2 1)" font-size="19">18</text>
<text transform="translate(606 461) scale(1.2 1)" font-size="19">13</text>
<text transform="translate(423 422.5) scale(1.15 1)" font-size="19">7</text>
<text transform="translate(351 423) scale(1.2 1)" font-size="19">8</text>
<text transform="translate(669 461) scale(1.15 1)" font-size="19">14</text>
<text transform="translate(724 455) scale(1.2 1)" font-size="19">15</text>
</g>
</svg>
</body></html>
